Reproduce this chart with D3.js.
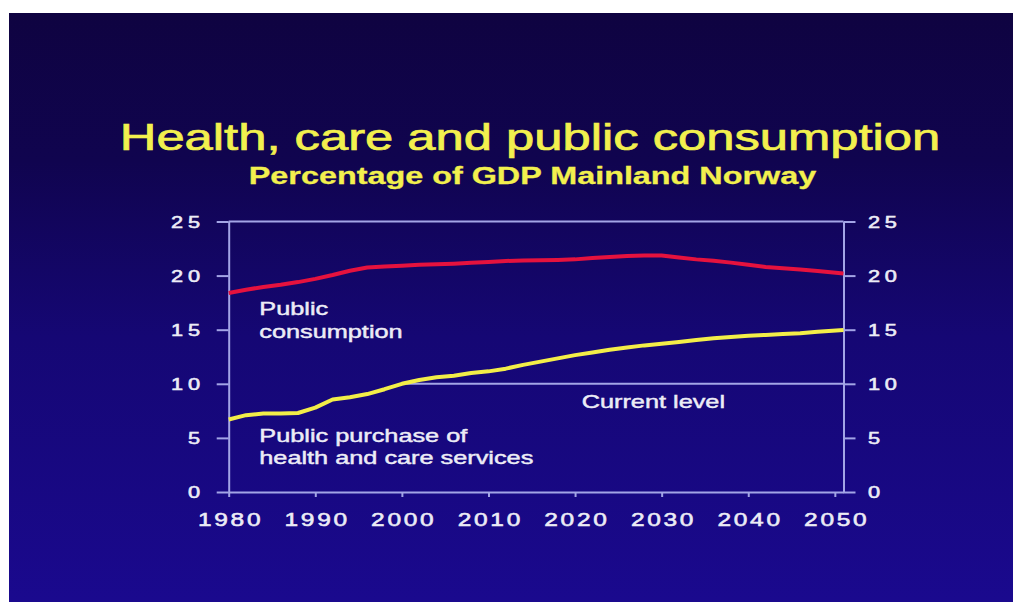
<!DOCTYPE html>
<html>
<head>
<meta charset="utf-8">
<script src="https://cdn.jsdelivr.net/npm/d3@7"></script>
<style>
  html, body { margin: 0; padding: 0; background: #ffffff; }
  svg { display: block; }
  text { font-family: "Liberation Sans", Arial, sans-serif; }
</style>
</head>
<body>
<svg id="chart" width="1013" height="602"></svg>
<script>
// Projection years and shares of GDP Mainland Norway (per cent)
const years = [1980, 1982, 1984, 1986, 1988, 1990, 1992, 1994, 1996, 1998,
               2000, 2002, 2004, 2006, 2008, 2010, 2012, 2014, 2016, 2018,
               2020, 2022, 2024, 2026, 2028, 2030, 2032, 2034, 2036, 2038,
               2040, 2042, 2044, 2046, 2048, 2051];
const publicConsumption = [18.4, 18.7, 18.95, 19.15, 19.4, 19.7, 20.05, 20.45, 20.75, 20.85,
                           20.92, 21.0, 21.05, 21.1, 21.18, 21.25, 21.35, 21.4, 21.42, 21.45,
                           21.5, 21.62, 21.72, 21.82, 21.85, 21.85, 21.68, 21.5, 21.38, 21.2,
                           21.0, 20.8, 20.68, 20.57, 20.43, 20.2];
const healthCare = [6.7, 7.1, 7.25, 7.25, 7.3, 7.8, 8.55, 8.75, 9.05, 9.5,
                    10.0, 10.35, 10.6, 10.75, 11.0, 11.15, 11.4, 11.75, 12.05, 12.35,
                    12.65, 12.9, 13.15, 13.35, 13.55, 13.7, 13.87, 14.05, 14.2, 14.33,
                    14.45, 14.52, 14.6, 14.68, 14.8, 14.97];
const currentLevel = 10;
const currentLevelYears = [2000.5, 2051];
const yearTicks = [1980, 1990, 2000, 2010, 2020, 2030, 2040, 2050];
const valueTicks = [0, 5, 10, 15, 20, 25];

const title = "Health, care and public consumption";
const subtitle = "Percentage of GDP Mainland Norway";
const consumptionLabel = ["Public", "consumption"];
const healthLabel = ["Public purchase of", "health and care services"];
const currentLabel = "Current level";

// Slide lettering is drawn wide; every text gets the same horizontal stretch
const SX = 1.36;
const axisColor = "#a3a5e6";
const labelColor = "#ececf6";
const titleColor = "#f2f04e";

const svg = d3.select("#chart");

// Slide background
const defs = svg.append("defs");
const grad = defs.append("linearGradient")
  .attr("id", "bg").attr("x1", 0).attr("y1", 0).attr("x2", 0).attr("y2", 1);
grad.append("stop").attr("offset", "0%").attr("stop-color", "#0f0341");
grad.append("stop").attr("offset", "25%").attr("stop-color", "#10044f");
grad.append("stop").attr("offset", "55%").attr("stop-color", "#150774");
grad.append("stop").attr("offset", "100%").attr("stop-color", "#1a098e");
svg.append("rect").attr("x", 9).attr("y", 13).attr("width", 1004).attr("height", 589)
  .attr("fill", "url(#bg)");

// Stretched text helper
function stretchedText(g, x, y, str, opts) {
  const t = g.append("text")
    .attr("transform", `translate(${x},${y}) scale(${SX},1)`)
    .attr("text-anchor", opts.anchor || "start")
    .attr("font-size", opts.size)
    .attr("font-weight", opts.weight || "normal")
    .attr("fill", opts.color)
    .attr("stroke", opts.color)
    .attr("stroke-width", opts.stroke || 0.45)
    .text(str);
  return t;
}

// Titles
stretchedText(svg, 530, 150, title, { anchor: "middle", size: 37.3, color: titleColor, stroke: 0.7 });
stretchedText(svg, 532.5, 184, subtitle, { anchor: "middle", size: 23.8, weight: "bold", color: titleColor, stroke: 0.3 });

// Scales
const x = d3.scaleLinear().domain([1980, 2051]).range([228.7, 843.5]);
const y = d3.scaleLinear().domain([0, 25]).range([492, 221.5]);

// Frame top edge
svg.append("line")
  .attr("x1", x.range()[0]).attr("x2", x.range()[1])
  .attr("y1", y(25)).attr("y2", y(25))
  .attr("stroke", axisColor).attr("stroke-width", 2);

// Current level reference line
svg.append("line")
  .attr("x1", x(currentLevelYears[0])).attr("x2", x(currentLevelYears[1]))
  .attr("y1", y(currentLevel)).attr("y2", y(currentLevel))
  .attr("stroke", axisColor).attr("stroke-width", 2);

function styleAxis(g) {
  g.selectAll("path.domain").attr("stroke", axisColor).attr("stroke-width", 2);
  g.selectAll(".tick line").attr("stroke", axisColor).attr("stroke-width", 2);
}

function styleTickText(sel, size, ls) {
  sel.attr("dy", null)
    .attr("font-size", size).attr("letter-spacing", ls)
    .attr("font-family", "Liberation Sans, Arial, sans-serif")
    .attr("fill", labelColor)
    .attr("stroke", labelColor).attr("stroke-width", 0.55);
}

const yLs = 3.5;   // letter spacing of value labels
const xLs = 2.0;   // letter spacing of year labels

// Left value axis
const leftAxis = svg.append("g")
  .attr("transform", `translate(${x.range()[0]},0)`)
  .call(d3.axisLeft(y).tickValues(valueTicks).tickSize(12).tickSizeOuter(0));
styleAxis(leftAxis);
styleTickText(leftAxis.selectAll(".tick text")
  .attr("transform", `scale(${SX},1)`)
  .attr("x", -(x.range()[0] - 200 - yLs * SX) / SX)
  .attr("y", 5.8), 16, yLs);

// Right value axis
const rightAxis = svg.append("g")
  .attr("transform", `translate(${x.range()[1]},0)`)
  .call(d3.axisRight(y).tickValues(valueTicks).tickSize(12).tickSizeOuter(0));
styleAxis(rightAxis);
styleTickText(rightAxis.selectAll(".tick text")
  .attr("transform", `scale(${SX},1)`)
  .attr("x", (868 - x.range()[1]) / SX)
  .attr("y", 5.8), 16, yLs);

// Year axis
const bottomAxis = svg.append("g")
  .attr("transform", `translate(0,${y(0)})`)
  .call(d3.axisBottom(x).tickValues(yearTicks).tickFormat(d3.format("d")).tickSize(5).tickSizeOuter(0));
styleAxis(bottomAxis);
styleTickText(bottomAxis.selectAll(".tick text")
  .attr("transform", `scale(${SX},1)`)
  .attr("x", xLs / 2)
  .attr("y", 33.7), 18, xLs);

// Series lines
const line = d3.line().x((d, i) => x(years[i])).y(d => y(d)).curve(d3.curveLinear);

svg.append("path").datum(publicConsumption)
  .attr("d", line).attr("fill", "none")
  .attr("stroke", "#e5123e").attr("stroke-width", 4)
  .attr("stroke-linejoin", "round").attr("stroke-linecap", "butt");

svg.append("path").datum(healthCare)
  .attr("d", line).attr("fill", "none")
  .attr("stroke", "#f3ee48").attr("stroke-width", 4)
  .attr("stroke-linejoin", "round").attr("stroke-linecap", "butt");

// Series labels
const lab = { size: 18.6, color: labelColor, stroke: 0.45 };
stretchedText(svg, 259.3, 315, consumptionLabel[0], lab);
stretchedText(svg, 259.3, 338.3, consumptionLabel[1], lab);
stretchedText(svg, 259.3, 441.7, healthLabel[0], lab);
stretchedText(svg, 259.3, 464.3, healthLabel[1], lab);
stretchedText(svg, 581.7, 407.7, currentLabel, lab);
</script>
</body>
</html>
